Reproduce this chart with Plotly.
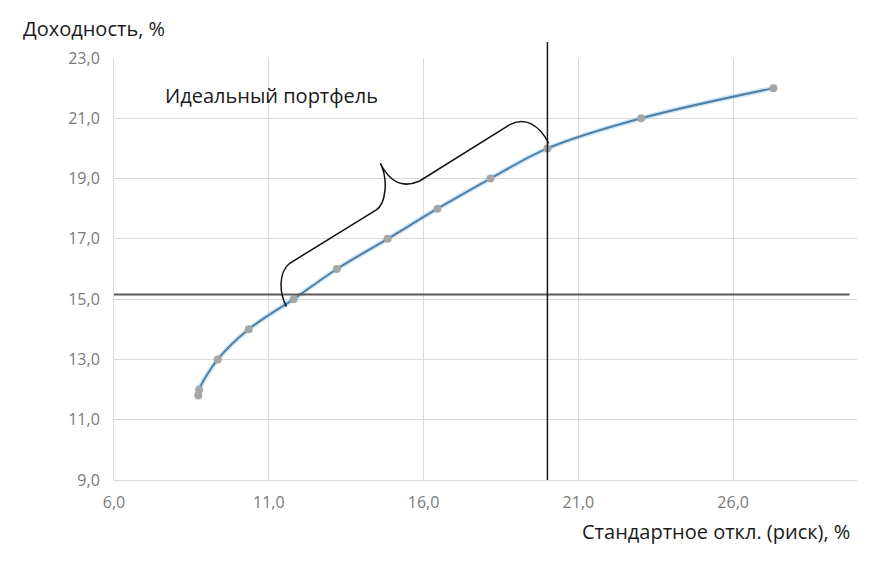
import plotly.graph_objects as go

# Data
risk = [8.72, 8.75, 9.35, 10.35, 11.8, 13.2, 14.84, 16.45, 18.16, 20.0, 23.03, 27.3]
ret = [11.8, 12.0, 13.0, 14.0, 15.0, 16.0, 17.0, 18.0, 19.0, 20.0, 21.0, 22.0]

x_ticks = [6, 11, 16, 21, 26]
y_ticks = [9, 11, 13, 15, 17, 19, 21, 23]

ideal_return = 15.15
ideal_risk = 20.0

FONT = "Open Sans"

fig = go.Figure()

# soft glow under the line
fig.add_trace(go.Scatter(
    x=risk, y=ret, mode="lines",
    line=dict(color="rgba(170,210,235,0.55)", width=5, shape="spline", smoothing=1.0),
    hoverinfo="skip", showlegend=False,
))
fig.add_trace(go.Scatter(
    x=risk, y=ret, mode="lines+markers",
    line=dict(color="#4f7fa6", width=2, shape="spline", smoothing=1.0),
    marker=dict(color="#a6a6a6", size=8),
    showlegend=False,
))

shapes = [
    # white box behind the label
    dict(type="rect", xref="paper", yref="paper", x0=0.049, x1=0.431, y0=0.711, y1=0.967,
         fillcolor="white", line=dict(width=0), layer="between"),
    # horizontal reference line
    dict(type="line", xref="paper", yref="y", x0=0, x1=0.99, y0=ideal_return, y1=ideal_return,
         line=dict(color="#595959", width=2), layer="above"),
    # vertical reference line
    dict(type="line", xref="x", yref="paper", x0=ideal_risk, x1=ideal_risk, y0=0, y1=1.038,
         line=dict(color="#1a1a1a", width=1.5), layer="above"),
    # curly brace
    dict(type="path", xref="x", yref="y",
         path=("M 11.571,14.750 C 11.323,15.238 11.323,15.901 11.677,16.190 "
               "L 14.474,17.958 C 14.774,18.157 14.871,18.953 14.603,19.508 "
               "C 14.839,19.020 15.226,18.622 15.871,18.920 "
               "L 18.774,20.778 C 19.258,21.077 19.742,20.778 20.042,20.171"),
         line=dict(color="#111111", width=1.5), layer="above"),
]

annotations = [
    dict(text="Доходность, %", xref="paper", yref="paper", x=-0.125, y=1.069,
         xanchor="left", yanchor="middle", showarrow=False,
         font=dict(family=FONT, size=20, color="#1a1a1a")),
    dict(text="Идеальный портфель", xref="paper", yref="paper", x=0.066, y=0.91,
         xanchor="left", yanchor="middle", showarrow=False,
         font=dict(family=FONT, size=20, color="#1a1a1a")),
    dict(text="Стандартное откл. (риск), %", xref="paper", yref="paper", x=0.993, y=-0.121,
         xanchor="right", yanchor="middle", showarrow=False,
         font=dict(family=FONT, size=20, color="#1a1a1a")),
]

fig.update_layout(
    width=881, height=553,
    margin=dict(l=106, r=32, t=50, b=81),
    paper_bgcolor="white", plot_bgcolor="white",
    separators=", ",
    shapes=shapes, annotations=annotations,
    xaxis=dict(range=[6, 30], tickvals=x_ticks, tickformat=".1f",
               showgrid=True, gridcolor="#d9d9d9", gridwidth=1,
               showline=True, linecolor="#d9d9d9", linewidth=1,
               zeroline=False, ticks="", ticklabelstandoff=8,
               tickfont=dict(family=FONT, size=16, color="#7a7a7a")),
    yaxis=dict(range=[9, 23], tickvals=y_ticks, tickformat=".1f",
               showgrid=True, gridcolor="#d9d9d9", gridwidth=1,
               showline=True, linecolor="#d9d9d9", linewidth=1,
               zeroline=False, ticks="", ticklabelstandoff=10,
               tickfont=dict(family=FONT, size=16, color="#7a7a7a")),
)

fig.write_html("out.html")
